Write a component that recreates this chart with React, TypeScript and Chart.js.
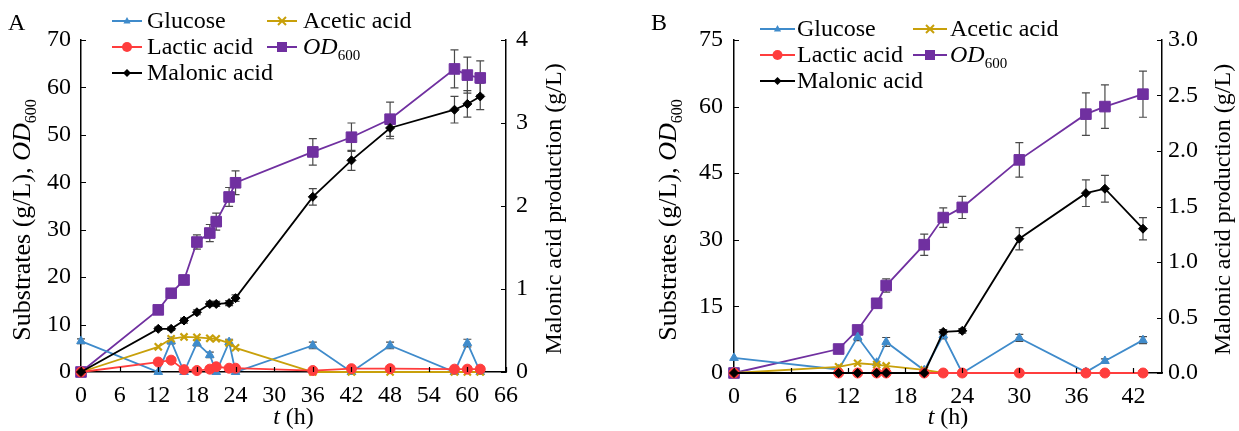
import React, { useEffect, useRef } from "react";
import { Chart, registerables } from "chart.js";

Chart.register(...registerables);

const FONT = '"Liberation Serif", "Times New Roman", serif';

// ---------- Panel A data ----------
const timeA = [0, 12, 14, 16, 18, 20, 21, 23, 24, 36, 42, 48, 58, 60, 62];
const glucoseA = [6.5, 0, 6.5, 0, 6.1, 3.6, 0, 6.3, 0, 5.6, 0, 5.6, 0, 6.1, 0];
const glucoseErrA = [0.5, 0, 0.6, 0, 0.6, 0.6, 0, 0.6, 0, 0.7, 0, 0.7, 0, 0.8, 0];
const aceticA = [0, 5.3, 7.0, 7.4, 7.3, 7.1, 7.0, 6.1, 5.1, 0, 0, 0, 0, 0, 0];
const lacticA = [0, 2.1, 2.5, 0.5, 0.3, 0.6, 1.1, 0.8, 0.8, 0.3, 0.7, 0.7, 0.6, 0.6, 0.6];
const odA = [0, 13.1, 16.6, 19.4, 27.4, 29.3, 31.7, 36.9, 39.9, 46.4, 49.5, 53.3, 63.9, 62.6, 62.0];
const odErrA = [0, 0.8, 0.8, 1.0, 1.5, 1.8, 1.8, 2.0, 2.5, 2.8, 3.0, 3.6, 4.0, 3.8, 3.6];
const malonicA = [0, 0.52, 0.52, 0.62, 0.72, 0.82, 0.82, 0.83, 0.89, 2.11, 2.55, 2.94, 3.16, 3.23, 3.32];
const malonicErrA = [0, 0.02, 0.02, 0.03, 0.03, 0.03, 0.03, 0.03, 0.04, 0.1, 0.12, 0.13, 0.16, 0.16, 0.16];

// ---------- Panel B data ----------
const timeB = [0, 11, 13, 15, 16, 20, 22, 24, 30, 37, 39, 43];
const glucoseB = [3.4, 0.8, 8.1, 2.3, 7.0, 0.6, 8.5, 0, 7.9, 0.2, 2.7, 7.4];
const glucoseErrB = [0, 0, 0.8, 0, 1.0, 0, 0.8, 0, 0.8, 0, 0.5, 0.8];
const aceticB = [0, 1.4, 2.2, 1.9, 1.6, 0.7, 0, 0, 0, 0, 0, 0];
const lacticB = [0, 0, 0, 0, 0, 0, 0, 0, 0, 0, 0, 0];
const odB = [0, 5.4, 9.7, 15.7, 19.7, 28.9, 35.0, 37.3, 48.0, 58.3, 60.0, 62.8];
const odErrB = [0, 0.5, 0.8, 1.0, 1.5, 2.4, 2.2, 2.5, 3.9, 4.8, 4.9, 5.2];
const malonicB = [0, 0, 0, 0, 0, 0, 0.37, 0.38, 1.21, 1.62, 1.66, 1.3];
const malonicErrB = [0, 0, 0, 0, 0, 0, 0.02, 0.02, 0.1, 0.12, 0.12, 0.1];

// ---------- Axis definitions ----------
const axisA = { xMax: 66, xStep: 6, yMax: 70, yStep: 10, y1Max: 4, y1Step: 1, y1Dec: 0 };
const axisB = { xMax: 45, xStep: 6, yMax: 75, yStep: 15, y1Max: 3, y1Step: 0.5, y1Dec: 1 };

const seriesNames = ["Glucose", "Acetic acid", "Lactic acid", "OD600", "Malonic acid"];

const C_GLU = "#3f8bcb";
const C_ACE = "#c8a00a";
const C_LAC = "#ff3d3d";
const C_OD = "#7030a0";
const C_MAL = "#000000";

type Seg = { t: string; italic?: boolean; sub?: boolean };

function fontStr(s: Seg, size: number) {
  const sz = s.sub ? Math.round(size * 0.62) : size;
  return `${s.italic ? "italic " : ""}${sz}px ${FONT}`;
}
function richWidth(ctx: CanvasRenderingContext2D, segs: Seg[], size: number) {
  let w = 0;
  for (const s of segs) {
    ctx.font = fontStr(s, size);
    w += ctx.measureText(s.t).width;
  }
  return w;
}
function drawRich(
  ctx: CanvasRenderingContext2D,
  segs: Seg[],
  x: number,
  yBase: number,
  align: "left" | "center",
  size: number
) {
  const w = richWidth(ctx, segs, size);
  let cx = align === "center" ? x - w / 2 : x;
  ctx.textAlign = "left";
  ctx.textBaseline = "alphabetic";
  ctx.fillStyle = "#000";
  for (const s of segs) {
    ctx.font = fontStr(s, size);
    ctx.fillText(s.t, cx, yBase + (s.sub ? size * 0.24 : 0));
    cx += ctx.measureText(s.t).width;
  }
}

function drawMarker(ctx: CanvasRenderingContext2D, style: string, x: number, y: number, r: number, color: string) {
  ctx.save();
  ctx.fillStyle = color;
  ctx.strokeStyle = color;
  ctx.beginPath();
  if (style === "triangle") {
    ctx.moveTo(x, y - r);
    ctx.lineTo(x + r * 0.9, y + r * 0.6);
    ctx.lineTo(x - r * 0.9, y + r * 0.6);
    ctx.closePath();
    ctx.fill();
  } else if (style === "circle") {
    ctx.arc(x, y, r, 0, Math.PI * 2);
    ctx.fill();
  } else if (style === "rect") {
    ctx.rect(x - r, y - r, 2 * r, 2 * r);
    ctx.fill();
  } else if (style === "rectRot") {
    ctx.moveTo(x, y - r);
    ctx.lineTo(x + r, y);
    ctx.lineTo(x, y + r);
    ctx.lineTo(x - r, y);
    ctx.closePath();
    ctx.fill();
  } else if (style === "crossRot") {
    ctx.lineWidth = 2;
    ctx.moveTo(x - r, y - r);
    ctx.lineTo(x + r, y + r);
    ctx.moveTo(x + r, y - r);
    ctx.lineTo(x - r, y + r);
    ctx.stroke();
  }
  ctx.restore();
}

type Layout = {
  label: string;
  width: number;
  left: number;
  right: number;
  top: number;
  bottom: number;
  padL: number;
  padR: number;
  leftTitleX: number;
  leftTitleY: number;
  rightTitleX: number;
  labelX: number;
  col1Line: [number, number];
  col1Text: number;
  col2Line: [number, number];
  col2Text: number;
  rows: [number, number, number];
};

const layoutA: Layout = {
  label: "A",
  width: 620,
  left: 81,
  right: 506,
  top: 40,
  bottom: 372,
  padL: 10,
  padR: 10,
  leftTitleX: 21,
  leftTitleY: 220,
  rightTitleX: 553,
  labelX: 8,
  col1Line: [112, 142],
  col1Text: 147,
  col2Line: [267, 297],
  col2Text: 303,
  rows: [21, 47, 73],
};

const layoutB: Layout = {
  label: "B",
  width: 619,
  left: 114,
  right: 542,
  top: 40,
  bottom: 373,
  padL: 11,
  padR: 6,
  leftTitleX: 47,
  leftTitleY: 220,
  rightTitleX: 602,
  labelX: 31,
  col1Line: [140, 175],
  col1Text: 177,
  col2Line: [293, 327],
  col2Text: 330,
  rows: [29, 55, 81],
};

const errorBarPlugin = {
  id: "errorBars",
  beforeDatasetsDraw(chart: any) {
    const ctx: CanvasRenderingContext2D = chart.ctx;
    ctx.save();
    ctx.strokeStyle = "#4a4a4a";
    ctx.lineWidth = 1.2;
    chart.data.datasets.forEach((ds: any, di: number) => {
      const errs: number[] | undefined = ds.errorBars;
      if (!errs) return;
      const meta = chart.getDatasetMeta(di);
      const ys = chart.scales[ds.yAxisID];
      meta.data.forEach((pt: any, i: number) => {
        const e = errs[i];
        if (!e) return;
        const v = ds.data[i].y;
        const y1 = ys.getPixelForValue(v + e);
        const y2 = ys.getPixelForValue(v - e);
        const x = pt.x;
        ctx.beginPath();
        ctx.moveTo(x, y1);
        ctx.lineTo(x, y2);
        ctx.moveTo(x - 4, y1);
        ctx.lineTo(x + 4, y1);
        ctx.moveTo(x - 4, y2);
        ctx.lineTo(x + 4, y2);
        ctx.stroke();
      });
    });
    ctx.restore();
  },
};

const inwardTicksPlugin = {
  id: "inwardTicks",
  afterDraw(chart: any) {
    const ctx: CanvasRenderingContext2D = chart.ctx;
    const { left, right, bottom } = chart.chartArea;
    ctx.save();
    ctx.strokeStyle = "#000";
    ctx.lineWidth = 1.2;
    ctx.beginPath();
    const x = chart.scales.x;
    x.ticks.forEach((_t: any, i: number) => {
      const px = Math.round(x.getPixelForTick(i)) + 0.5;
      ctx.moveTo(px, bottom);
      ctx.lineTo(px, bottom - 5);
    });
    const y = chart.scales.y;
    y.ticks.forEach((_t: any, i: number) => {
      const py = Math.round(y.getPixelForTick(i)) + 0.5;
      ctx.moveTo(left, py);
      ctx.lineTo(left + 5, py);
    });
    const y1 = chart.scales.y1;
    y1.ticks.forEach((_t: any, i: number) => {
      const py = Math.round(y1.getPixelForTick(i)) + 0.5;
      ctx.moveTo(right, py);
      ctx.lineTo(right - 5, py);
    });
    ctx.stroke();
    ctx.restore();
  },
};

const odSegs = (): Seg[] => [
  { t: "OD", italic: true },
  { t: "600", sub: true },
];

function makeTextPlugin(L: Layout) {
  return {
    id: "texts" + L.label,
    afterDraw(chart: any) {
      const ctx: CanvasRenderingContext2D = chart.ctx;
      const { top, bottom, left, right } = chart.chartArea;
      const midY = (top + bottom) / 2;
      const size = 24;
      ctx.save();
      // panel label
      drawRich(ctx, [{ t: L.label }], L.labelX, 30, "left", size);
      // x title
      drawRich(ctx, [{ t: "t", italic: true }, { t: " (h)" }], (left + right) / 2, 424, "center", size);
      // left title
      ctx.save();
      ctx.translate(L.leftTitleX, L.leftTitleY);
      ctx.rotate(-Math.PI / 2);
      drawRich(ctx, [{ t: "Substrates (g/L), " }, ...odSegs()], 0, 9, "center", 26);
      ctx.restore();
      // right title
      ctx.save();
      ctx.translate(L.rightTitleX, midY + 3);
      ctx.rotate(-Math.PI / 2);
      drawRich(ctx, [{ t: "Malonic acid production (g/L)" }], 0, 8, "center", size);
      ctx.restore();
      // legend
      const entries = [
        { col: 0, row: 0, color: C_GLU, style: "triangle", r: 4, segs: [{ t: seriesNames[0] }] },
        { col: 1, row: 0, color: C_ACE, style: "crossRot", r: 4, segs: [{ t: seriesNames[1] }] },
        { col: 0, row: 1, color: C_LAC, style: "circle", r: 5, segs: [{ t: seriesNames[2] }] },
        { col: 1, row: 1, color: C_OD, style: "rect", r: 5, segs: odSegs() },
        { col: 0, row: 2, color: C_MAL, style: "rectRot", r: 4, segs: [{ t: seriesNames[4] }] },
      ];
      for (const e of entries) {
        const ln = e.col === 0 ? L.col1Line : L.col2Line;
        const tx = e.col === 0 ? L.col1Text : L.col2Text;
        const y = L.rows[e.row];
        ctx.beginPath();
        ctx.strokeStyle = e.color;
        ctx.lineWidth = 2;
        ctx.moveTo(ln[0], y);
        ctx.lineTo(ln[1], y);
        ctx.stroke();
        drawMarker(ctx, e.style, (ln[0] + ln[1]) / 2, y, e.r, e.color);
        drawRich(ctx, e.segs as Seg[], tx, y + 7, "left", size);
      }
      ctx.restore();
    },
  };
}

function ds(
  label: string,
  xs: number[],
  ys: number[],
  color: string,
  pointStyle: string,
  radius: number,
  yAxisID: string,
  order: number,
  errs?: number[]
) {
  return {
    label,
    data: xs.map((x, i) => ({ x, y: ys[i] })),
    borderColor: color,
    backgroundColor: color,
    pointBackgroundColor: color,
    pointBorderColor: color,
    pointStyle,
    pointRadius: radius,
    pointHoverRadius: radius,
    pointBorderWidth: pointStyle === "crossRot" ? 2.2 : 1,
    borderWidth: 1.8,
    tension: 0,
    yAxisID,
    clip: false,
    order,
    errorBars: errs,
  };
}

function makeConfig(
  L: Layout,
  ax: typeof axisA,
  t: number[],
  glu: number[],
  gluErr: number[],
  ace: number[],
  lac: number[],
  od: number[],
  odErr: number[],
  mal: number[],
  malErr: number[]
): any {
  const tickFont = { family: FONT, size: 24 };
  const border = { display: true, color: "#000", width: 1.5 };
  const grid = { display: true, drawOnChartArea: false, drawTicks: false };
  return {
    type: "line",
    data: {
      datasets: [
        ds("Malonic acid", t, mal, C_MAL, "rectRot", 4.5, "y1", 0, malErr),
        ds("Lactic acid", t, lac, C_LAC, "circle", 5, "y", 1),
        ds("Acetic acid", t, ace, C_ACE, "crossRot", 5, "y", 2),
        ds("Glucose", t, glu, C_GLU, "triangle", 5, "y", 3, gluErr),
        ds("OD600", t, od, C_OD, "rect", 7.5, "y", 4, odErr),
      ],
    },
    options: {
      responsive: false,
      animation: false,
      events: [],
      layout: { padding: { top: L.top, left: 0, right: 0, bottom: 0 } },
      plugins: { legend: { display: false }, tooltip: { enabled: false }, title: { display: false } },
      scales: {
        x: {
          type: "linear",
          min: 0,
          max: ax.xMax,
          border,
          grid,
          ticks: {
            stepSize: ax.xStep,
            includeBounds: false,
            autoSkip: false,
            maxRotation: 0,
            padding: 9,
            color: "#000",
            font: tickFont,
          },
          afterFit: (s: any) => {
            s.height = 431 - L.bottom;
          },
        },
        y: {
          type: "linear",
          position: "left",
          min: 0,
          max: ax.yMax,
          border,
          grid,
          ticks: { stepSize: ax.yStep, padding: L.padL, color: "#000", font: tickFont },
          afterFit: (s: any) => {
            s.width = L.left;
          },
        },
        y1: {
          type: "linear",
          position: "right",
          min: 0,
          max: ax.y1Max,
          border,
          grid,
          ticks: {
            stepSize: ax.y1Step,
            padding: L.padR,
            color: "#000",
            font: tickFont,
            callback: (v: number) => Number(v).toFixed(ax.y1Dec),
          },
          afterFit: (s: any) => {
            s.width = L.width - L.right;
          },
        },
      },
    },
    plugins: [errorBarPlugin, inwardTicksPlugin, makeTextPlugin(L)],
  };
}

export default function App() {
  const refA = useRef<HTMLCanvasElement>(null);
  const refB = useRef<HTMLCanvasElement>(null);
  useEffect(() => {
    const a = new Chart(
      refA.current!,
      makeConfig(layoutA, axisA, timeA, glucoseA, glucoseErrA, aceticA, lacticA, odA, odErrA, malonicA, malonicErrA)
    );
    const b = new Chart(
      refB.current!,
      makeConfig(layoutB, axisB, timeB, glucoseB, glucoseErrB, aceticB, lacticB, odB, odErrB, malonicB, malonicErrB)
    );
    return () => {
      a.destroy();
      b.destroy();
    };
  }, []);
  return (
    <div style={{ position: "absolute", left: 0, top: 0, width: 1239, height: 431, background: "#fff" }}>
      <canvas
        ref={refA}
        width={620}
        height={431}
        style={{ position: "absolute", left: 0, top: 0, width: 620, height: 431 }}
      />
      <canvas
        ref={refB}
        width={619}
        height={431}
        style={{ position: "absolute", left: 620, top: 0, width: 619, height: 431 }}
      />
    </div>
  );
}
